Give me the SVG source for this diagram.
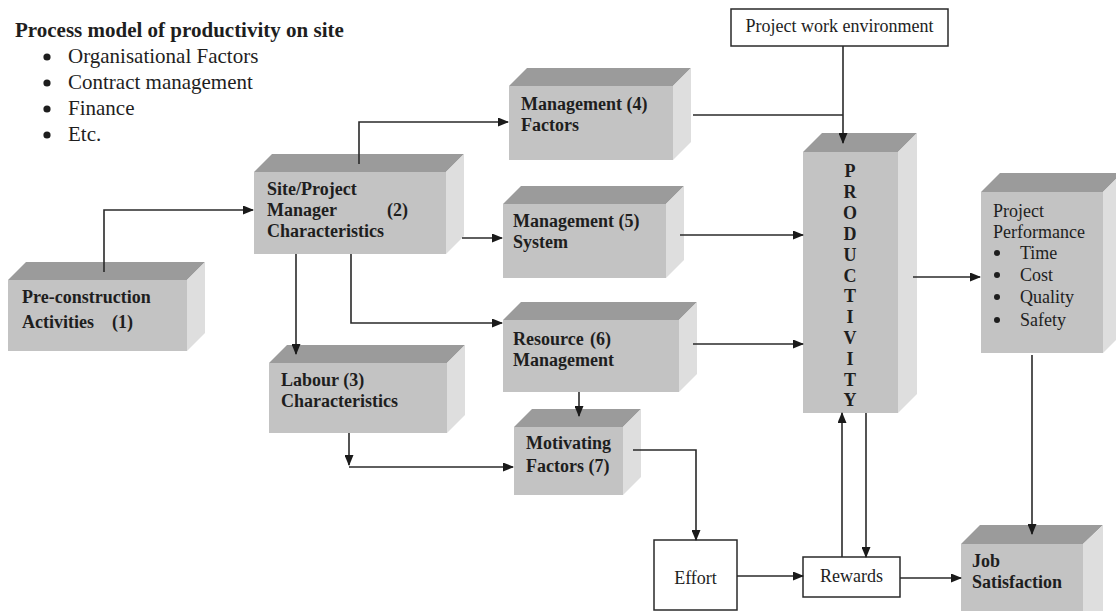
<svg xmlns="http://www.w3.org/2000/svg" width="1116" height="611" viewBox="0 0 1116 611">
<defs>
<style>
.front{fill:#c3c3c3}
.top{fill:#9b9b9b}
.side{fill:#dedede}
.t{font-family:"Liberation Serif","Times New Roman",serif;fill:#1e1e1e}
.b{font-weight:bold;font-size:18px}
.r{font-size:18px}
.dot{fill:#1e1e1e}
.plain{fill:#ffffff;stroke:#2a2a2a;stroke-width:1.5}
.c{fill:none;stroke:#2a2a2a;stroke-width:1.6}
</style>
<marker id="ah" markerUnits="userSpaceOnUse" markerWidth="11" markerHeight="9" refX="10" refY="4.5" orient="auto">
<path d="M0,0 L11,4.5 L0,9 z" fill="#1a1a1a"/>
</marker>
</defs>
<rect width="1116" height="611" fill="#ffffff"/>

<g id="title">
<text class="t" x="15" y="37" font-size="21" font-weight="bold">Process model of productivity on site</text>
<circle class="dot" cx="47" cy="57" r="3.6"/>
<circle class="dot" cx="47" cy="83" r="3.6"/>
<circle class="dot" cx="47" cy="109" r="3.6"/>
<circle class="dot" cx="47" cy="135" r="3.6"/>
<g class="t" font-size="21">
<text x="68" y="63">Organisational Factors</text>
<text x="68" y="89">Contract management</text>
<text x="68" y="115">Finance</text>
<text x="68" y="141">Etc.</text>
</g>
</g>

<g id="n1">
<polygon class="top" points="8,280 26,262 205,262 187,280"/>
<polygon class="side" points="187,280 205,262 205,333 187,351"/>
<rect class="front" x="8" y="280" width="179" height="71"/>
<text class="t b" x="22" y="303">Pre-construction</text>
<text class="t b" x="22" y="328">Activities</text>
<text class="t b" x="112" y="328">(1)</text>
</g>

<g id="n2">
<polygon class="top" points="254,172 272,154 464,154 446,172"/>
<polygon class="side" points="446,172 464,154 464,236 446,254"/>
<rect class="front" x="254" y="172" width="192" height="82"/>
<text class="t b" x="267" y="195">Site/Project</text>
<text class="t b" x="267" y="216">Manager</text>
<text class="t b" x="387" y="216">(2)</text>
<text class="t b" x="267" y="237">Characteristics</text>
</g>

<g id="n3">
<polygon class="top" points="269,363 287,345 465,345 447,363"/>
<polygon class="side" points="447,363 465,345 465,415 447,433"/>
<rect class="front" x="269" y="363" width="178" height="70"/>
<text class="t b" x="281" y="386">Labour (3)</text>
<text class="t b" x="281" y="407">Characteristics</text>
</g>

<g id="n4">
<polygon class="top" points="509,86 527,68 691,68 673,86"/>
<polygon class="side" points="673,86 691,68 691,142 673,160"/>
<rect class="front" x="509" y="86" width="164" height="74"/>
<text class="t b" x="521" y="110">Management (4)</text>
<text class="t b" x="521" y="131">Factors</text>
</g>

<g id="n5">
<polygon class="top" points="503,204 521,186 684,186 666,204"/>
<polygon class="side" points="666,204 684,186 684,260 666,278"/>
<rect class="front" x="503" y="204" width="163" height="74"/>
<text class="t b" x="513" y="227">Management (5)</text>
<text class="t b" x="513" y="248">System</text>
</g>

<g id="n6">
<polygon class="top" points="503,320 521,302 697,302 679,320"/>
<polygon class="side" points="679,320 697,302 697,374 679,392"/>
<rect class="front" x="503" y="320" width="176" height="72"/>
<text class="t b" x="513" y="345">Resource</text>
<text class="t b" x="590" y="345">(6)</text>
<text class="t b" x="513" y="366">Management</text>
</g>

<g id="n7">
<polygon class="top" points="514,427 532,409 641,409 623,427"/>
<polygon class="side" points="623,427 641,409 641,477 623,495"/>
<rect class="front" x="514" y="427" width="109" height="68"/>
<text class="t b" x="526" y="449">Motivating</text>
<text class="t b" x="526" y="472">Factors (7)</text>
</g>

<g id="productivity">
<polygon class="top" points="803,152 822,133 917,133 898,152"/>
<polygon class="side" points="898,152 917,133 917,394 898,413"/>
<rect class="front" x="803" y="152" width="95" height="261"/>
<g class="t b" text-anchor="middle">
<text x="850" y="177">P</text>
<text x="850" y="198">R</text>
<text x="850" y="219">O</text>
<text x="850" y="240">D</text>
<text x="850" y="261">U</text>
<text x="850" y="282">C</text>
<text x="850" y="302">T</text>
<text x="850" y="323">I</text>
<text x="850" y="344">V</text>
<text x="850" y="365">I</text>
<text x="850" y="386">T</text>
<text x="850" y="406">Y</text>
</g>
</g>

<g id="performance">
<polygon class="top" points="981,192 1000,173 1122,173 1103,192"/>
<polygon class="side" points="1103,192 1122,173 1122,334 1103,353"/>
<rect class="front" x="981" y="192" width="122" height="161"/>
<text class="t r" x="993" y="217">Project</text>
<text class="t r" x="993" y="238">Performance</text>
<circle class="dot" cx="997" cy="253" r="3"/><text class="t r" x="1020" y="259">Time</text>
<circle class="dot" cx="997" cy="275" r="3"/><text class="t r" x="1020" y="281">Cost</text>
<circle class="dot" cx="997" cy="297" r="3"/><text class="t r" x="1020" y="303">Quality</text>
<circle class="dot" cx="997" cy="320" r="3"/><text class="t r" x="1020" y="326">Safety</text>
</g>

<g id="job">
<polygon class="top" points="961,544 980,525 1103,525 1083,544"/>
<polygon class="side" points="1083,544 1103,525 1103,630 1083,630"/>
<rect class="front" x="961" y="544" width="122" height="80"/>
<text class="t b" x="972" y="567">Job</text>
<text class="t b" x="972" y="588">Satisfaction</text>
</g>

<g id="environment">
<rect class="plain" x="731" y="9" width="217" height="37"/>
<text class="t r" x="839.5" y="32" text-anchor="middle">Project work environment</text>
</g>

<g id="effort">
<rect class="plain" x="654" y="540" width="83" height="70"/>
<text class="t r" x="695.5" y="584" text-anchor="middle">Effort</text>
</g>

<g id="rewards">
<rect class="plain" x="803" y="557" width="97" height="40"/>
<text class="t r" x="851.5" y="582" text-anchor="middle">Rewards</text>
</g>

<g id="connectors">
<path class="c" d="M104,272 V210 H253" marker-end="url(#ah)"/>
<path class="c" d="M359,164 V122 H508" marker-end="url(#ah)"/>
<path class="c" d="M462,238 H502" marker-end="url(#ah)"/>
<path class="c" d="M296,254 V354" marker-end="url(#ah)"/>
<path class="c" d="M351,254 V323 H502" marker-end="url(#ah)"/>
<path class="c" d="M693,115 H843"/>
<path class="c" d="M843,46 V143" marker-end="url(#ah)"/>
<path class="c" d="M680,235 H803" marker-end="url(#ah)"/>
<path class="c" d="M693,344 H803" marker-end="url(#ah)"/>
<path class="c" d="M579,392 V416" marker-end="url(#ah)"/>
<path class="c" d="M349,433 V465" marker-end="url(#ah)"/>
<path class="c" d="M349,467 H513" marker-end="url(#ah)"/>
<path class="c" d="M633,450 H696 V540" marker-end="url(#ah)"/>
<path class="c" d="M913,277 H980" marker-end="url(#ah)"/>
<path class="c" d="M1032,355 V534" marker-end="url(#ah)"/>
<path class="c" d="M737,576 H803" marker-end="url(#ah)"/>
<path class="c" d="M900,578 H961" marker-end="url(#ah)"/>
<path class="c" d="M842,557 V413" marker-end="url(#ah)"/>
<path class="c" d="M866,413 V557" marker-end="url(#ah)"/>
</g>
</svg>
